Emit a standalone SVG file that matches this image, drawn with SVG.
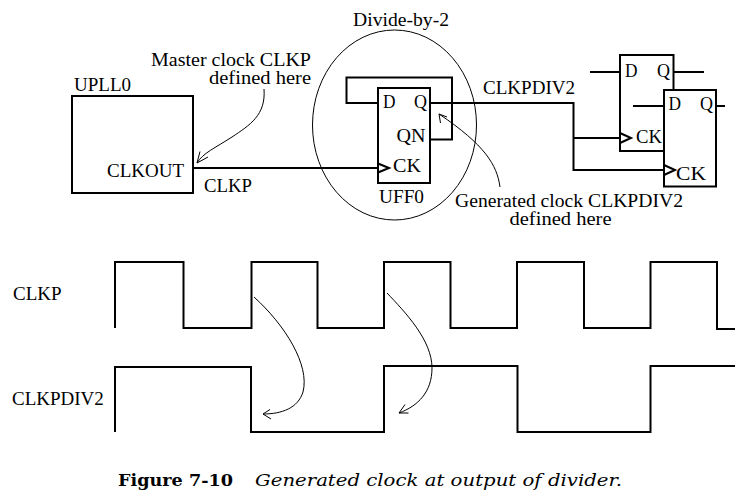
<svg xmlns="http://www.w3.org/2000/svg" width="735" height="503" viewBox="0 0 735 503">
<style>
.bg{fill:#fff}
.box{fill:#fff;stroke:#000;stroke-width:2}
.w{fill:none;stroke:#000;stroke-width:2;stroke-linejoin:miter}
.thin{fill:none;stroke:#000;stroke-width:1}
.t{font-family:"Liberation Serif","Times New Roman",serif;font-size:18px;fill:#000}
.wl{font-family:"Liberation Serif","Times New Roman",serif;font-size:19px;fill:#000}
.cb{font-family:"DejaVu Serif","Liberation Serif",serif;font-size:17px;font-weight:bold;fill:#000}
.ci{font-family:"DejaVu Serif","Liberation Serif",serif;font-size:17px;font-style:italic;fill:#000}
</style>
<rect class="bg" x="0" y="0" width="735" height="503"/>

<g id="connectors">
  <path class="w" d="M193,168 H378"/>
  <path class="w" d="M378,103 H346.5 V77.5 H452 V139.5 H430"/>
  <path class="w" d="M430,103 H573.5 V170 H664"/>
  <path class="w" d="M573.5,138 H620"/>
</g>

<g id="divider-circle">
  <ellipse class="thin" cx="394.5" cy="125" rx="82" ry="95"/>
  <text class="t" x="353" y="26" textLength="96" lengthAdjust="spacingAndGlyphs">Divide-by-2</text>
</g>

<g id="UPLL0">
  <rect class="box" x="72" y="96" width="121" height="97"/>
  <text class="t" x="74" y="90.5" textLength="57" lengthAdjust="spacingAndGlyphs">UPLL0</text>
  <text class="t" x="107" y="176.5" textLength="77" lengthAdjust="spacingAndGlyphs">CLKOUT</text>
</g>

<g id="UFF0">
  <rect class="box" x="378" y="88" width="52" height="95"/>
  <path class="w" d="M378,163.5 L389,168 L378,172.5"/>
  <text class="t" x="383" y="108" textLength="12.5" lengthAdjust="spacingAndGlyphs">D</text>
  <text class="t" x="414" y="108" textLength="13" lengthAdjust="spacingAndGlyphs">Q</text>
  <text class="t" x="396.5" y="142" textLength="29" lengthAdjust="spacingAndGlyphs">QN</text>
  <text class="t" x="393" y="172" textLength="28" lengthAdjust="spacingAndGlyphs">CK</text>
  <text class="t" x="379" y="203" textLength="45" lengthAdjust="spacingAndGlyphs">UFF0</text>
</g>

<g id="FF1">
  <rect class="box" x="620" y="55" width="53.5" height="96"/>
  <path class="w" d="M590,72 H620 M673.5,72 H704"/>
  <path class="w" d="M620,133 L631,138 L620,143"/>
  <text class="t" x="625" y="77" textLength="12.5" lengthAdjust="spacingAndGlyphs">D</text>
  <text class="t" x="657" y="77" textLength="13" lengthAdjust="spacingAndGlyphs">Q</text>
  <text class="t" x="636" y="143" textLength="26" lengthAdjust="spacingAndGlyphs">CK</text>
</g>

<g id="FF2">
  <rect class="box" x="664" y="90" width="52" height="96.5"/>
  <path class="w" d="M633,106 H664 M716,106 H725"/>
  <path class="w" d="M664,165 L675,170 L664,175"/>
  <text class="t" x="668.5" y="110" textLength="12.5" lengthAdjust="spacingAndGlyphs">D</text>
  <text class="t" x="700" y="110" textLength="13" lengthAdjust="spacingAndGlyphs">Q</text>
  <text class="t" x="676" y="180" textLength="30" lengthAdjust="spacingAndGlyphs">CK</text>
</g>

<g id="wire-labels">
  <text class="t" x="204" y="191.5" textLength="48" lengthAdjust="spacingAndGlyphs">CLKP</text>
  <text class="t" x="483" y="94" textLength="92" lengthAdjust="spacingAndGlyphs">CLKPDIV2</text>
</g>

<g id="master-note">
  <text class="t" x="151" y="65.5" textLength="160" lengthAdjust="spacingAndGlyphs">Master clock CLKP</text>
  <text class="t" x="209" y="84" textLength="102" lengthAdjust="spacingAndGlyphs">defined here</text>
  <path class="thin" d="M264,89 C266,115 250,125 232,137 C215,148 203,153 197,163"/>
  <path class="thin" d="M200,151.5 L197,163 L208,157"/>
</g>

<g id="generated-note">
  <text class="t" x="455" y="206.5" textLength="228" lengthAdjust="spacingAndGlyphs">Generated clock CLKPDIV2</text>
  <text class="t" x="509.5" y="225" textLength="102" lengthAdjust="spacingAndGlyphs">defined here</text>
  <path class="thin" d="M500,187 C497,165 485,145 439,114"/>
  <path class="thin" d="M440.5,123 L439,114 L447,117"/>
</g>

<g id="waveforms">
  <text class="wl" x="13" y="299.5">CLKP</text>
  <text class="wl" x="12" y="405">CLKPDIV2</text>
  <path class="w" d="M115,328 V262 H183.5 V328 H251.5 V262 H317.5 V328 H384 V262 H450.5 V328 H517 V262 H584 V328 H650.5 V262 H717 V329 H735"/>
  <path class="w" d="M115,432 V367 H251 V432 H384 V366 H517.5 V432 H650.5 V366 H735"/>
  <path class="thin" d="M254,297 C285,325 310,365 303,392 C298,408 282,414 263,414"/>
  <path class="thin" d="M270,409.5 L263,414 L271,419"/>
  <path class="thin" d="M387,293 C405,312 432,340 432,368 C432,392 418,406 399,413"/>
  <path class="thin" d="M405,404.5 L399,413 L408.5,413"/>
</g>

<g id="caption">
  <text class="cb" x="118" y="486" textLength="115" lengthAdjust="spacingAndGlyphs">Figure 7-10</text>
  <text class="ci" x="255" y="486" textLength="367" lengthAdjust="spacingAndGlyphs">Generated clock at output of divider.</text>
</g>
</svg>
